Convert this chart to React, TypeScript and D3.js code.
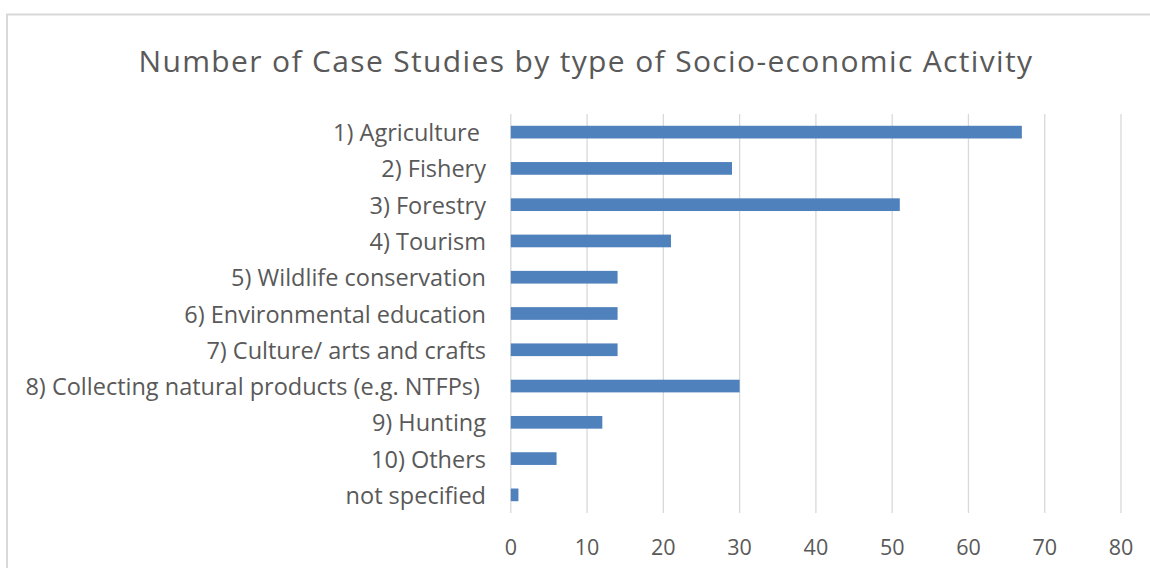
import React from "react";
import * as d3 from "d3";

const categories = [
  "1) Agriculture ",
  "2) Fishery",
  "3) Forestry",
  "4) Tourism",
  "5) Wildlife conservation",
  "6) Environmental education",
  "7) Culture/ arts and crafts",
  "8) Collecting natural products (e.g. NTFPs) ",
  "9) Hunting",
  "10) Others",
  "not specified",
];
const values = [67, 29, 51, 21, 14, 14, 14, 30, 12, 6, 1];
const xTicks = [0, 10, 20, 30, 40, 50, 60, 70, 80];
const title = "Number of Case Studies by type of Socio-economic Activity";

const W = 1150;
const H = 568;
const FONT = "'Open Sans', 'Noto Sans', sans-serif";
const TEXT = "#595959";

export default function App() {
  const x = d3.scaleLinear().domain([0, 80]).range([510.8, 1121]);
  const y = d3
    .scaleBand<string>()
    .domain(categories)
    .range([114, 513])
    .paddingInner(0.65)
    .paddingOuter(0.325);

  return (
    <svg
      width={W}
      height={H}
      style={{ position: "absolute", left: 0, top: 0, background: "#fff" }}
    >
      <rect x={7} y={14.5} width={1200} height={600} fill="#fff" stroke="#d9d9d9" strokeWidth={2} />
      <text
        x={586}
        y={60}
        textAnchor="middle"
        dominantBaseline="central"
        fontFamily={FONT}
        fontSize={30}
        letterSpacing={1.35}
        fill={TEXT}
      >
        {title}
      </text>
      {xTicks.map((t) => (
        <g key={t}>
          <line x1={x(t)} x2={x(t)} y1={114} y2={513} stroke="#d9d9d9" strokeWidth={1.3} />
          <text
            x={x(t)}
            y={546}
            textAnchor="middle"
            dominantBaseline="central"
            fontFamily={FONT}
            fontSize={21.5}
            fill={TEXT}
          >
            {t}
          </text>
        </g>
      ))}
      {categories.map((c, i) => (
        <g key={c}>
          <rect
            x={x(0)}
            y={y(c)!}
            width={x(values[i]) - x(0)}
            height={y.bandwidth()}
            fill="#4f81bd"
          />
          <text
            x={486}
            y={y(c)! + y.bandwidth() / 2}
            textAnchor="end"
            dominantBaseline="central"
            fontFamily={FONT}
            fontSize={23.5}
            fill={TEXT}
            style={{ whiteSpace: "pre" }}
          >
            {c}
          </text>
        </g>
      ))}
    </svg>
  );
}
